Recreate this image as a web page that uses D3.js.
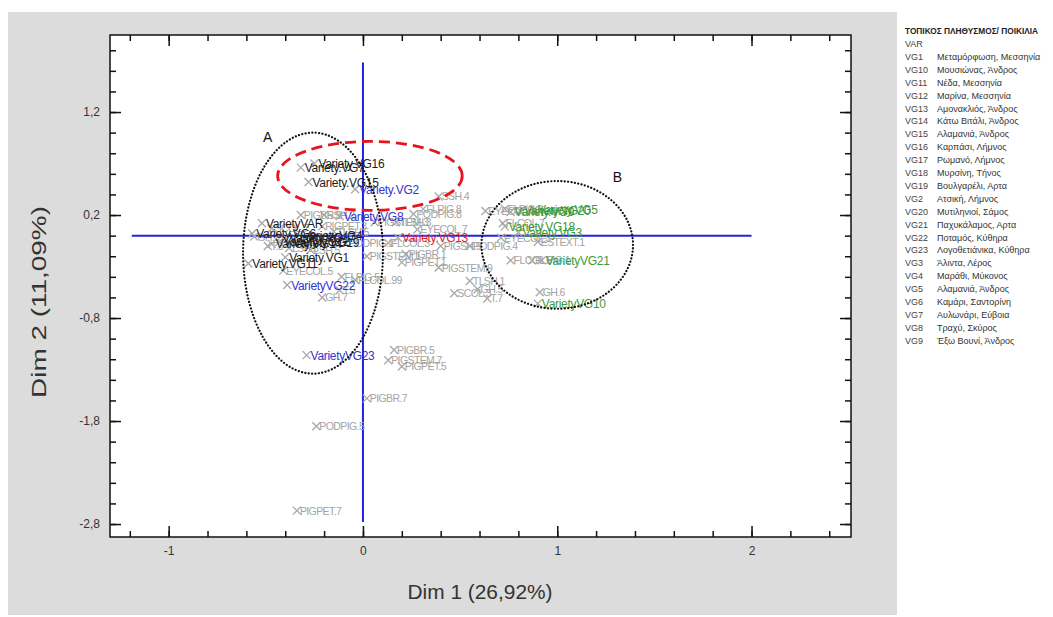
<!DOCTYPE html>
<html>
<head>
<meta charset="utf-8">
<script src="https://cdn.jsdelivr.net/npm/d3@7"></script>
<style>
  html, body { margin: 0; padding: 0; background: #ffffff; }
  svg { display: block; font-family: "Liberation Sans", Arial, sans-serif; }
</style>
</head>
<body>
<svg id="chart" width="1053" height="617"></svg>
<script>
// ---- Correspondence analysis: varieties (supplementary) ----
const varietyCodes = ["VAR","VG1","VG11","VG4","VG6","VG7","VG16","VG15","VG19","VG12","VG14","VG17",
                      "VG2","VG8","VG22","VG23","VG13",
                      "VG5","VG20","VG9","VG18","VG3","VG21","VG10"];
const varietyLabels = ["VarietyVAR","Variety.VG1","Variety.VG11","Variety.VG4","Variety.VG6","Variety.VG7",
                       "Variety.VG16","Variety.VG15","Variety.VG19","Variety.VG12","Variety.VG14","Variety.VG17",
                       "Variety.VG2","Variety.VG8","VarietyVG22","VarietyVG23","Variety.VG13",
                       "Variety.VG5","Variety.VG20","Variety.VG9","Variety.VG18","Variety.VG3","VarietyVG21","VarietyVG10"];
const varietyDim1  = [-0.52,-0.40,-0.59,-0.33,-0.57,-0.32,-0.25,-0.28,-0.38,-0.43,-0.47,-0.40,
                      -0.04,-0.12,-0.39,-0.29, 0.18,
                       0.88, 0.81, 0.76, 0.73, 0.80, 0.92, 0.90];
const varietyDim2  = [ 0.12,-0.21,-0.27, 0.00, 0.02, 0.66, 0.70, 0.52,-0.07,-0.06,-0.08,-0.02,
                       0.45, 0.19,-0.48,-1.16,-0.02,
                       0.25, 0.24, 0.23, 0.09, 0.03,-0.24,-0.66];
// cluster / highlight category of each variety
const varietyGroup = ["A","A","A","A","A","A","A","A","A","A","A","A",
                      "C","C","C","C","D",
                      "B","B","B","B","B","B","B"];

// ---- Descriptor categories (active) ----
const traitNames = ["SSH.4","FLPIG.8","PODPIG.8","TLSH.3","PIGSTEM.3","EYECOL.7","PIGSH.9","PODPIG.4","FLCOL.3",
                    "PIGSTEM.1","PIGBR.1","PIGPET.1","PIGSTEM.9","TLSH.1","SCOL.3","GH.5","T.7","GH.6",
                    "GH.7","T.5","FLPIG.5","FLCOL.99","EYECOL.5","FLCOL.5","FLPIG.1","ESTEXT.1","EYECOL.3",
                    "EYECOL.9","FLPIG.9","FLCOL.7","PIGBR.5","PIGSTEM.7","PIGPET.5","PIGBR.7","PODPIG.5","PIGPET.7",
                    "GH.3","PIGBR.3","SCOL.7","LSH.3","T.3","PIGPET.3","TLSH.5","PODPIG.1","LSH.5","SSH.2"];
const traitDim1  = [ 0.39, 0.31, 0.26, 0.17, 0.06, 0.28, 0.40, 0.55, 0.13,
                     0.02, 0.22, 0.20, 0.39, 0.55, 0.47, 0.59, 0.64, 0.91,
                    -0.21,-0.12,-0.11,-0.04,-0.41, 0.76, 0.87, 0.90, 0.71,
                     0.63, 0.73, 0.72, 0.16, 0.13, 0.20, 0.02,-0.24,-0.34,
                    -0.56,-0.32,-0.47,-0.38,-0.49,-0.21,-0.15,-0.09,-0.27,-0.20];
const traitDim2  = [ 0.38, 0.26, 0.21, 0.13, 0.13, 0.06,-0.10,-0.10,-0.07,
                    -0.20,-0.18,-0.26,-0.31,-0.44,-0.56,-0.52,-0.61,-0.55,
                    -0.60,-0.53,-0.40,-0.43,-0.34,-0.24,-0.24,-0.06,-0.02,
                     0.24, 0.26, 0.12,-1.11,-1.21,-1.27,-1.58,-1.85,-2.67,
                    -0.01, 0.20, 0.07,-0.12,-0.10, 0.09, 0.04,-0.07,-0.14, 0.20];

// ---- Axes ----
const dim1Ticks = [-1, 0, 1, 2];
const dim2Ticks = [-2.8, -1.8, -0.8, 0.2, 1.2];
const dim1Title = "Dim 1 (26,92%)";
const dim2Title = "Dim 2 (11,09%)";
const originSpan1 = [-1.19, 2.0];   // extent of the Dim 1 origin line
const originSpan2 = [-2.78, 1.68];  // extent of the Dim 2 origin line

// ---- Group outlines in Dim units ----
const clusterNames = ["A", "B", ""];
const clusterCx    = [-0.257, 1.00, 0.036];
const clusterCy    = [-0.17, -0.09, 0.58];
const clusterRx    = [0.36, 0.39, 0.475];
const clusterRy    = [1.17, 0.62, 0.335];
const clusterLabelX = [-0.49, 1.31];
const clusterLabelY = [ 0.91, 0.52];

// ---- Legend ----
const legendTitle = "ΤΟΠΙΚΟΣ ΠΛΗΘΥΣΜΟΣ/ ΠΟΙΚΙΛΙΑ";
const legendCodes = ["VAR","VG1","VG10","VG11","VG12","VG13","VG14","VG15","VG16","VG17","VG18","VG19",
                     "VG2","VG20","VG21","VG22","VG23","VG3","VG4","VG5","VG6","VG7","VG8","VG9"];
const legendPlaces = ["","Μεταμόρφωση, Μεσσηνία","Μουσιώνας, Άνδρος","Νέδα, Μεσσηνία","Μαρίνα, Μεσσηνία",
                      "Αμονακλιός, Άνδρος","Κάτω Βιτάλι, Άνδρος","Αλαμανιά, Άνδρος","Καρπάσι, Λήμνος",
                      "Ρωμανό, Λήμνος","Μυρσίνη, Τήνος","Βουλγαρέλι, Αρτα","Ατσική, Λήμνος",
                      "Μυτιληνιοί, Σάμος","Παχυκάλαμος, Αρτα","Ποταμός, Κύθηρα","Λογοθετιάνικα, Κύθηρα",
                      "Άλιντα, Λέρος","Μαράθι, Μύκονος","Αλαμανιά, Άνδρος","Καμάρι, Σαντορίνη",
                      "Αυλωνάρι, Εύβοια","Τραχύ, Σκύρος","Έξω Βουνί, Άνδρος"];

// ================= drawing =================
const svg = d3.select("#chart");
const W = 1053, H = 617;
const plot = {left: 110, top: 35, right: 851, bottom: 537};
const groupColour = {A: "#1c1c1c", B: "#3b9a3b", C: "#3434cf", D: "#e3202b"};
const axisBlue = "#2222e4";

const locale = d3.formatLocale({decimal: ",", thousands: ".", grouping: [3], currency: ["", ""], minus: "-"});
const fmt1 = locale.format(".1f");
const fmt0 = locale.format("d");

const x = d3.scaleLinear().domain([-1.302, 2.512]).range([plot.left, plot.right]);
const y = d3.scaleLinear().domain([-2.926, 1.948]).range([plot.bottom, plot.top]);

// page background and grey chart panel
svg.append("rect").attr("width", W).attr("height", H).attr("fill", "#ffffff");
svg.append("rect").attr("x", 8).attr("y", 12).attr("width", 889).attr("height", 603).attr("fill", "#dcdcdc");
svg.append("rect").attr("x", plot.left).attr("y", plot.top)
  .attr("width", plot.right - plot.left).attr("height", plot.bottom - plot.top).attr("fill", "#ffffff");

// origin lines
svg.append("line")
  .attr("x1", x(originSpan1[0])).attr("x2", x(originSpan1[1]))
  .attr("y1", y(0)).attr("y2", y(0))
  .attr("stroke", axisBlue).attr("stroke-width", 2);
svg.append("line")
  .attr("x1", x(0)).attr("x2", x(0))
  .attr("y1", y(originSpan2[1])).attr("y2", y(originSpan2[0]))
  .attr("stroke", axisBlue).attr("stroke-width", 2);

const cross = "M-4,-4L4,4M-4,4L4,-4";

// descriptor categories
const traits = traitNames.map((n, i) => ({name: n, d1: traitDim1[i], d2: traitDim2[i]}));
const tg = svg.append("g");
tg.selectAll("path").data(traits).join("path")
  .attr("d", cross)
  .attr("transform", d => `translate(${x(d.d1)},${y(d.d2)})`)
  .attr("stroke", "#a8a8a8").attr("stroke-width", 1.3).attr("fill", "none");
tg.selectAll("text").data(traits).join("text")
  .attr("x", d => x(d.d1) + 3)
  .attr("y", d => y(d.d2) + 4)
  .attr("font-size", 10.5).attr("letter-spacing", -0.6)
  .attr("fill", "#a3a3a3")
  .text(d => d.name);

// varieties
const varieties = varietyCodes.map((c, i) => ({code: c, label: varietyLabels[i], d1: varietyDim1[i], d2: varietyDim2[i], g: varietyGroup[i]}));
const vg = svg.append("g");
vg.selectAll("path").data(varieties).join("path")
  .attr("d", cross)
  .attr("transform", d => `translate(${x(d.d1)},${y(d.d2)})`)
  .attr("stroke", "#a8a8a8").attr("stroke-width", 1.3).attr("fill", "none");
vg.selectAll("text").data(varieties).join("text")
  .attr("x", d => x(d.d1) + 4)
  .attr("y", d => y(d.d2) + 4.5)
  .attr("font-size", 12).attr("letter-spacing", -0.3)
  .attr("fill", d => groupColour[d.g])
  .text(d => d.label);

// group outlines
const clusters = clusterNames.map((n, i) => ({name: n, cx: clusterCx[i], cy: clusterCy[i], rx: clusterRx[i], ry: clusterRy[i]}));
svg.append("g").selectAll("ellipse").data(clusters).join("ellipse")
  .attr("cx", d => x(d.cx)).attr("cy", d => y(d.cy))
  .attr("rx", d => x(d.rx) - x(0)).attr("ry", d => y(0) - y(d.ry))
  .attr("fill", "none")
  .attr("stroke", d => d.name ? "#111111" : "#e8141c")
  .attr("stroke-width", d => d.name ? 2.2 : 2.8)
  .attr("stroke-linecap", d => d.name ? "round" : "butt")
  .attr("stroke-dasharray", d => d.name ? "0.1 3.3" : "11 6");
svg.append("g").selectAll("text").data(clusterLabelX).join("text")
  .attr("x", d => x(d)).attr("y", (d, i) => y(clusterLabelY[i]))
  .attr("font-size", 14).attr("fill", "#111111").attr("text-anchor", "middle")
  .text((d, i) => clusterNames[i]);

// frame
svg.append("rect").attr("x", plot.left).attr("y", plot.top)
  .attr("width", plot.right - plot.left).attr("height", plot.bottom - plot.top)
  .attr("fill", "none").attr("stroke", "#111111").attr("stroke-width", 1.5);

// axes, ticks pointing into the plot on all four sides
const minor1 = d3.range(-1.2, 2.41, 0.2).map(v => +v.toFixed(1));
const minor2 = d3.range(-2.8, 1.81, 0.2).map(v => +v.toFixed(1));

function styleAxis(g) {
  g.select(".domain").remove();
  g.selectAll(".tick line").attr("stroke", "#111111").attr("stroke-width", 1.5);
  g.selectAll(".tick text").attr("fill", "#333333").attr("font-size", 12)
    .attr("font-family", "\"Liberation Sans\", Arial, sans-serif");
}

svg.append("g").attr("transform", `translate(0,${plot.bottom})`)
  .call(d3.axisBottom(x).tickValues(minor1).tickSize(-6).tickFormat("")).call(styleAxis);
svg.append("g").attr("transform", `translate(0,${plot.bottom})`)
  .call(d3.axisBottom(x).tickValues(dim1Ticks).tickSize(-11).tickPadding(9).tickFormat(fmt0)).call(styleAxis);
svg.append("g").attr("transform", `translate(0,${plot.top})`)
  .call(d3.axisTop(x).tickValues(minor1).tickSize(-6).tickFormat("")).call(styleAxis);
svg.append("g").attr("transform", `translate(0,${plot.top})`)
  .call(d3.axisTop(x).tickValues(dim1Ticks).tickSize(-11).tickFormat("")).call(styleAxis);

svg.append("g").attr("transform", `translate(${plot.left},0)`)
  .call(d3.axisLeft(y).tickValues(minor2).tickSize(-6).tickFormat("")).call(styleAxis);
svg.append("g").attr("transform", `translate(${plot.left},0)`)
  .call(d3.axisLeft(y).tickValues(dim2Ticks).tickSize(-11).tickPadding(10).tickFormat(fmt1)).call(styleAxis);
svg.append("g").attr("transform", `translate(${plot.right},0)`)
  .call(d3.axisRight(y).tickValues(minor2).tickSize(-6).tickFormat("")).call(styleAxis);
svg.append("g").attr("transform", `translate(${plot.right},0)`)
  .call(d3.axisRight(y).tickValues(dim2Ticks).tickSize(-11).tickFormat("")).call(styleAxis);

// axis titles
svg.append("text")
  .attr("x", 480).attr("y", 599)
  .attr("text-anchor", "middle").attr("font-size", 20).attr("fill", "#333333")
  .attr("textLength", 145).attr("lengthAdjust", "spacingAndGlyphs")
  .text(dim1Title);
svg.append("text")
  .attr("transform", "translate(46,302) rotate(-90)")
  .attr("text-anchor", "middle").attr("font-size", 21).attr("fill", "#333333")
  .attr("textLength", 192).attr("lengthAdjust", "spacingAndGlyphs")
  .text(dim2Title);

// legend
const lg = svg.append("g").attr("transform", "translate(905,0)");
lg.append("text").attr("x", 0).attr("y", 34)
  .attr("font-size", 8.3).attr("font-weight", "bold").attr("fill", "#222222")
  .text(legendTitle);
const rows = lg.selectAll("g.row").data(legendCodes).join("g").attr("class", "row")
  .attr("transform", (d, i) => `translate(0,${47 + i * 12.9})`);
rows.append("text").attr("x", 0).attr("y", 0)
  .attr("font-size", 9).attr("fill", "#444444").text(d => d);
rows.append("text").attr("x", 32).attr("y", 0)
  .attr("font-size", 9).attr("fill", "#333333").text((d, i) => legendPlaces[i]);
</script>
</body>
</html>
